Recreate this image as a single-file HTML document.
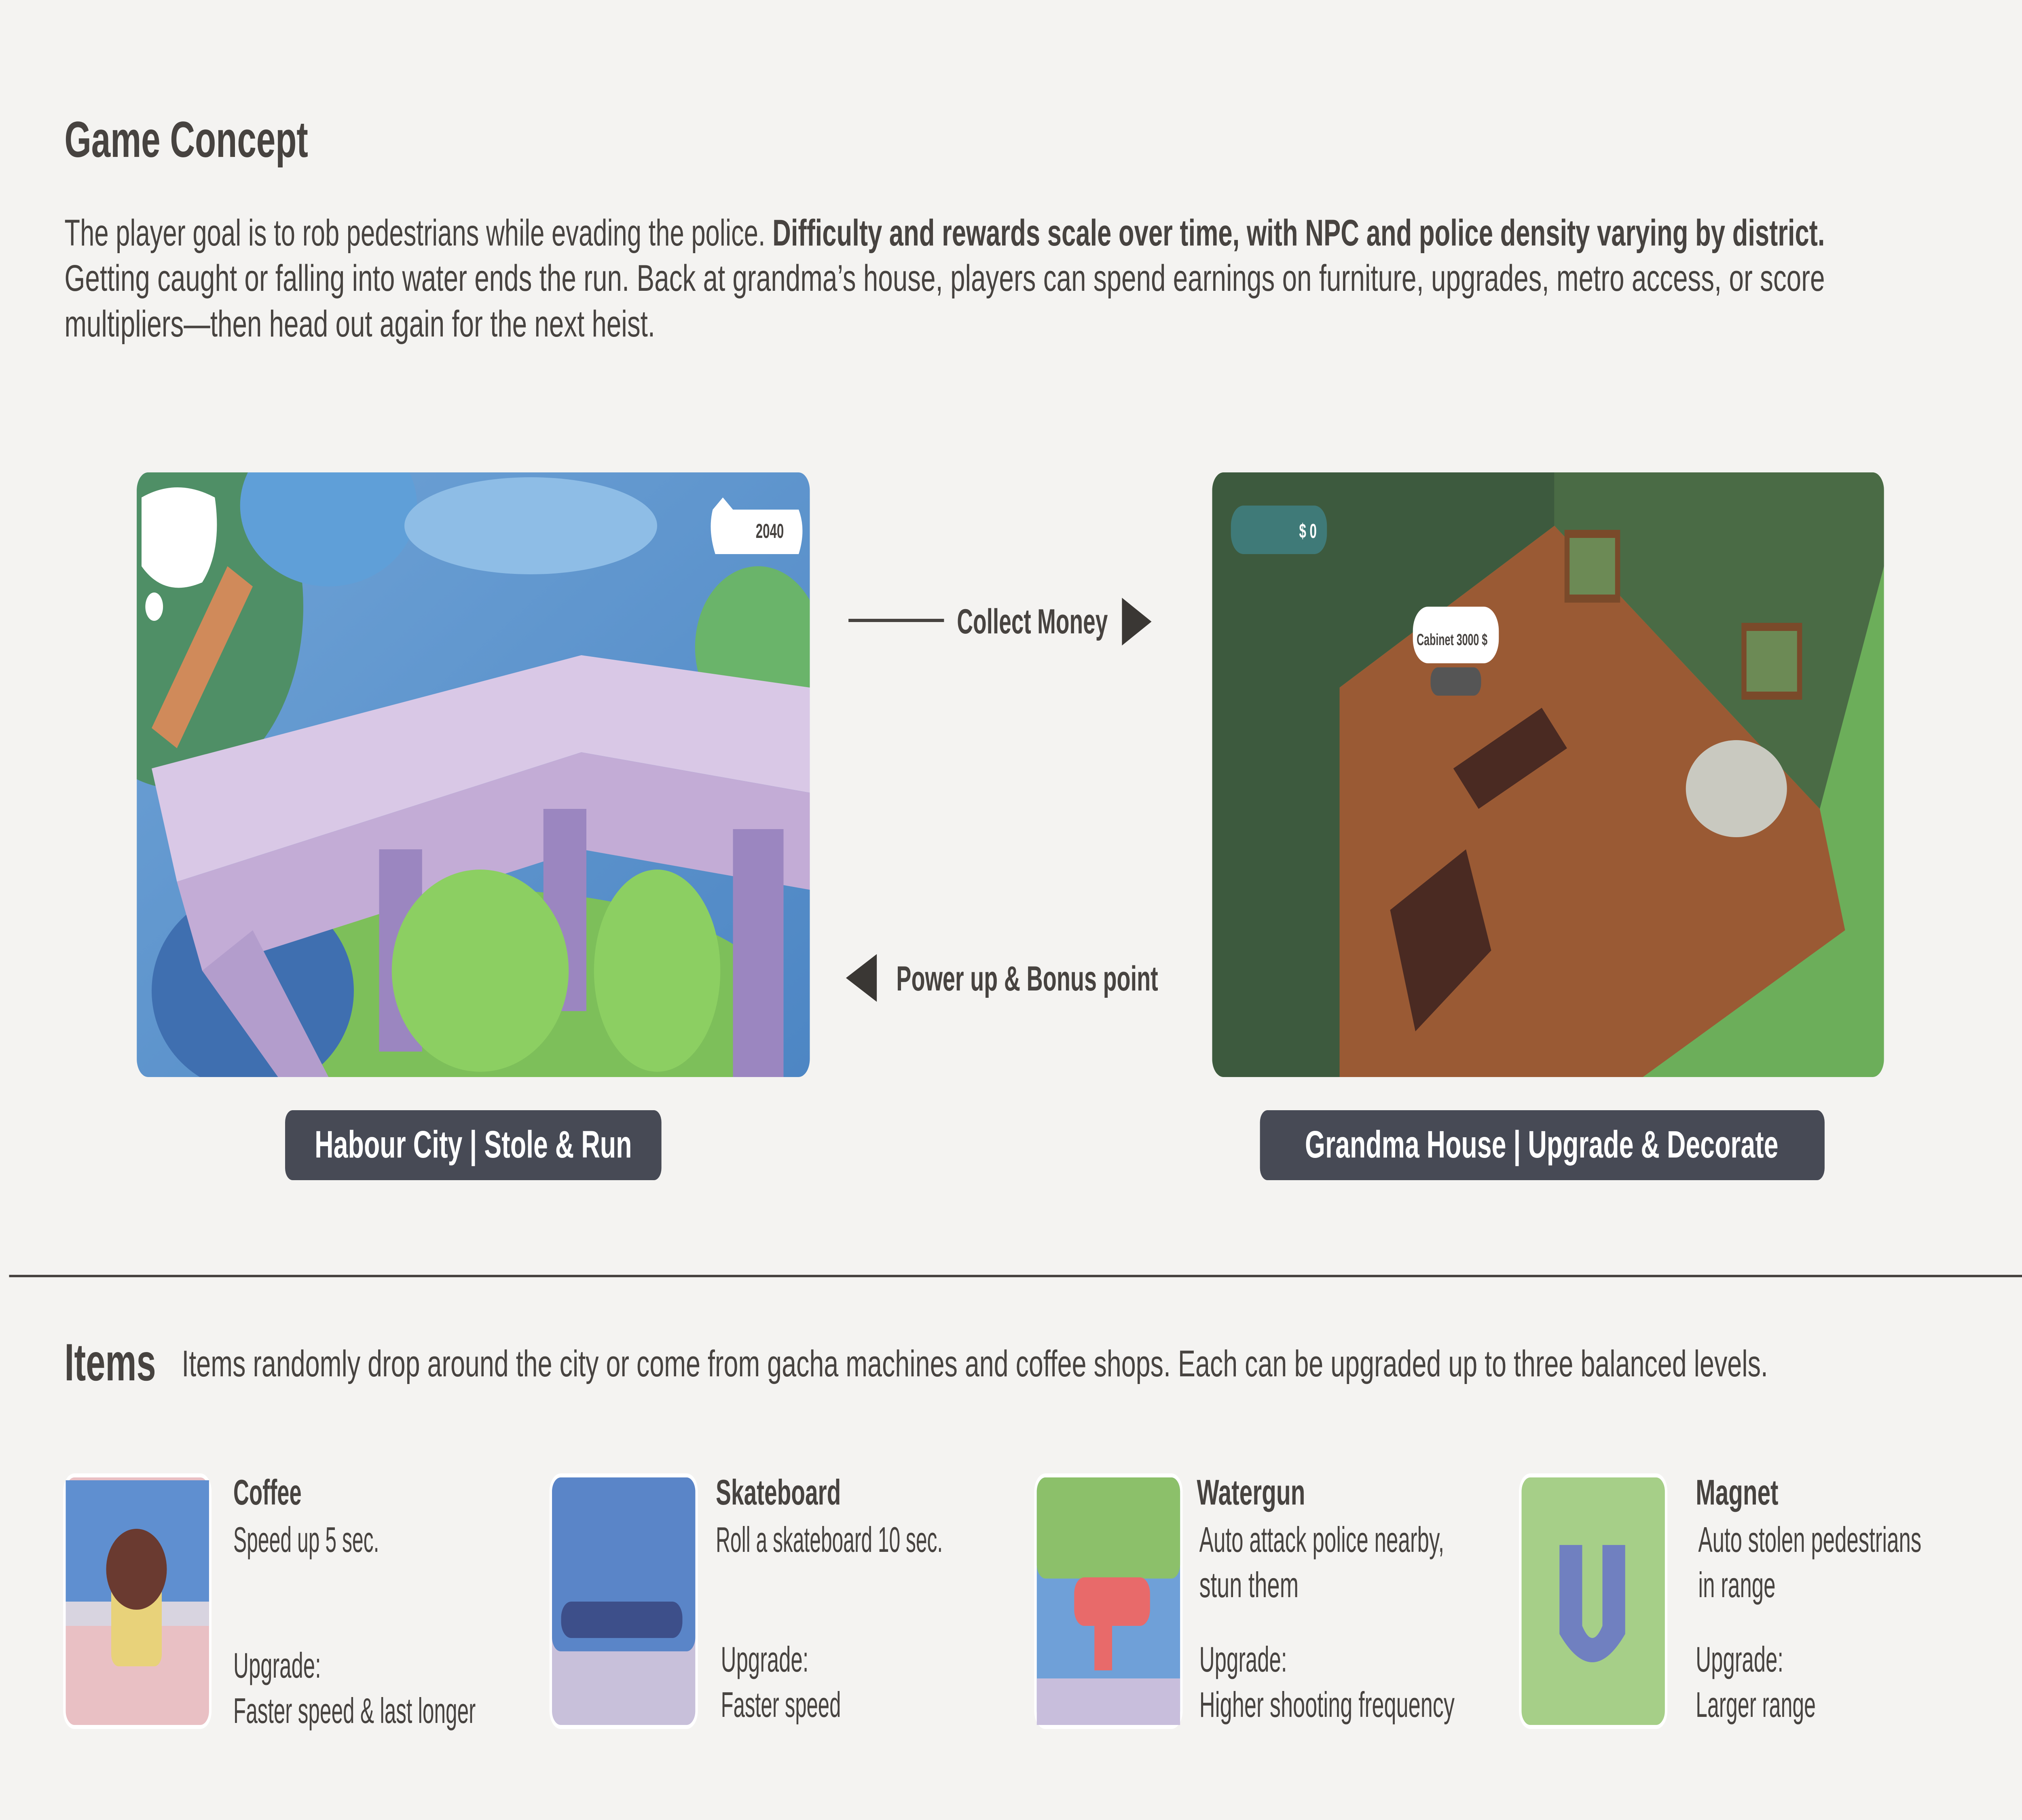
<!DOCTYPE html>
<html><head><meta charset="utf-8"><style>
html,body{margin:0;padding:0;background:#f4f3f1;overflow:hidden;width:100%;height:100%;}
svg{display:block;width:100vw;height:100vh}
text{font-family:"Liberation Sans",sans-serif;fill:#474340}
</style></head><body>
<svg viewBox="0 0 8000 4500" preserveAspectRatio="none" xmlns="http://www.w3.org/2000/svg">
<defs>
<clipPath id="cl"><rect x="541" y="1168" width="2663" height="1495" rx="45"/></clipPath>
<clipPath id="cr"><rect x="4796" y="1168" width="2658" height="1495" rx="45"/></clipPath>
<linearGradient id="wat" x1="0" y1="0" x2="1" y2="1"><stop offset="0" stop-color="#6fa3d6"/><stop offset="1" stop-color="#4d86c4"/></linearGradient>
</defs>
<rect width="8000" height="4500" fill="#f4f3f1"/>

<text x="255" y="388" font-size="125" font-weight="bold" textLength="964" lengthAdjust="spacingAndGlyphs">Game Concept</text>
<text x="255" y="607" font-size="92" textLength="6965" lengthAdjust="spacingAndGlyphs">The player goal is to rob pedestrians while evading the police. <tspan font-weight="bold">Difficulty and rewards scale over time, with NPC and police density varying by district.</tspan></text>
<text x="255" y="719" font-size="92" textLength="6965" lengthAdjust="spacingAndGlyphs">Getting caught or falling into water ends the run. Back at grandma’s house, players can spend earnings on furniture, upgrades, metro access, or score</text>
<text x="255" y="832" font-size="92" textLength="2337" lengthAdjust="spacingAndGlyphs">multipliers—then head out again for the next heist.</text>

<g clip-path="url(#cl)">
<rect x="541" y="1168" width="2663" height="1495" fill="url(#wat)"/>
<ellipse cx="700" cy="1500" rx="500" ry="450" fill="#4f8f66"/>
<ellipse cx="1300" cy="1250" rx="350" ry="200" fill="#5f9fd8"/>
<ellipse cx="2100" cy="1300" rx="500" ry="120" fill="#8ebde6"/>
<ellipse cx="3000" cy="1600" rx="250" ry="200" fill="#6ab46a"/>
<ellipse cx="1900" cy="2500" rx="1200" ry="300" fill="#7dbf5a"/>
<ellipse cx="1000" cy="2450" rx="400" ry="250" fill="#3f6fb0"/>
<polygon points="600,1900 2300,1620 3204,1700 3204,1960 2300,1860 700,2180" fill="#d9c8e6"/>
<polygon points="700,2180 2300,1860 3204,1960 3204,2200 2300,2100 800,2400" fill="#c3acd6"/>
<polygon points="800,2400 1100,2663 1300,2663 1000,2300" fill="#b39dcc"/>
<rect x="1500" y="2100" width="170" height="500" fill="#9b86c0"/>
<rect x="2150" y="2000" width="170" height="500" fill="#9b86c0"/>
<rect x="2900" y="2050" width="200" height="613" fill="#9b86c0"/>
<ellipse cx="1900" cy="2400" rx="350" ry="250" fill="#8ccf62"/>
<ellipse cx="2600" cy="2400" rx="250" ry="250" fill="#8ccf62"/>
<polygon points="600,1800 900,1400 1000,1450 700,1850" fill="#d08a5a"/>
<path d="M560 1230 Q700 1180 850 1230 Q880 1360 800 1440 Q650 1480 560 1400 Z" fill="#fff"/>
<circle cx="610" cy="1500" r="35" fill="#fff"/>
<path d="M2820 1260 L2860 1230 L2900 1260 L3160 1260 Q3190 1310 3160 1370 L2830 1370 Q2800 1310 2820 1260Z" fill="#fff"/>
<text x="2990" y="1330" font-size="50" font-weight="bold">2040</text>
</g>

<g clip-path="url(#cr)">
<rect x="4796" y="1168" width="2658" height="1495" fill="#6cae5a"/>
<polygon points="4796,1168 6150,1168 6150,1300 5300,1700 5300,2663 4796,2663" fill="#3d5a3e"/>
<polygon points="6150,1168 7454,1168 7454,1400 7200,2000 6150,1300" fill="#4a6b45"/>
<polygon points="5300,1700 6150,1300 7200,2000 7300,2300 6500,2663 5300,2663" fill="#9a5a34"/>
<polygon points="5500,2250 5800,2100 5900,2350 5600,2550" fill="#4a2a22"/>
<polygon points="5750,1900 6100,1750 6200,1850 5850,2000" fill="#4a2a22"/>
<ellipse cx="6870" cy="1950" rx="200" ry="120" fill="#c9c9c0"/>
<rect x="6200" y="1320" width="200" height="160" fill="#6c8a55" stroke="#7a4a2a" stroke-width="20"/>
<rect x="6900" y="1550" width="220" height="170" fill="#6c8a55" stroke="#7a4a2a" stroke-width="20"/>
<rect x="4870" y="1250" width="380" height="120" rx="50" fill="#3f7a78"/>
<text x="5140" y="1330" font-size="50" font-weight="bold" style="fill:#fff">$ 0</text>
<rect x="5590" y="1500" width="340" height="140" rx="60" fill="#fff"/>
<text x="5605" y="1595" font-size="40" font-weight="bold">Cabinet 3000 $</text>
<rect x="5660" y="1650" width="200" height="70" rx="30" fill="#555"/>
</g>

<rect x="1128" y="2745" width="1489" height="173" rx="30" fill="#474a55"/>
<text x="1245" y="2862" font-size="95" font-weight="bold" style="fill:#fff" textLength="1255" lengthAdjust="spacingAndGlyphs">Habour City  |  Stole &amp; Run</text>
<rect x="4985" y="2745" width="2234" height="173" rx="30" fill="#474a55"/>
<text x="5163" y="2862" font-size="95" font-weight="bold" style="fill:#fff" textLength="1873" lengthAdjust="spacingAndGlyphs">Grandma House  |  Upgrade &amp; Decorate</text>

<line x1="3357" y1="1534" x2="3735" y2="1534" stroke="#474340" stroke-width="8"/>
<text x="3786" y="1566" font-size="86" font-weight="bold" textLength="597" lengthAdjust="spacingAndGlyphs">Collect Money</text>
<polygon points="4439,1478 4556,1537 4439,1596" fill="#3a3734"/>
<polygon points="3469,2359 3347,2418 3469,2477" fill="#3a3734"/>
<text x="3546" y="2449" font-size="86" font-weight="bold" textLength="1036" lengthAdjust="spacingAndGlyphs">Power up &amp;  Bonus point</text>

<line x1="36" y1="3155" x2="8000" y2="3155" stroke="#474340" stroke-width="6"/>

<text x="255" y="3413" font-size="130" font-weight="bold" textLength="362" lengthAdjust="spacingAndGlyphs">Items</text>
<text x="719" y="3403" font-size="92" textLength="6276" lengthAdjust="spacingAndGlyphs">Items randomly drop around the city or come from gacha machines and coffee shops. Each can be upgraded up to three balanced levels.</text>

<g>
<rect x="255" y="3648" width="577" height="622" rx="40" fill="#e9c0c4" stroke="#fff" stroke-width="10"/>
<rect x="260" y="3660" width="567" height="300" fill="#5f8fd0"/>
<rect x="260" y="3960" width="567" height="60" fill="#d8d4e0"/>
<rect x="440" y="3900" width="200" height="220" rx="30" fill="#e8d27a"/>
<ellipse cx="540" cy="3880" rx="120" ry="100" fill="#6a3a30"/>
</g>
<g>
<rect x="2179" y="3648" width="577" height="622" rx="40" fill="#c8c0da" stroke="#fff" stroke-width="10"/>
<rect x="2184" y="3653" width="567" height="430" rx="35" fill="#5a85c8"/>
<rect x="2220" y="3960" width="480" height="90" rx="40" fill="#3d4f8a"/>
</g>
<g>
<rect x="4097" y="3648" width="577" height="622" rx="40" fill="#6fa0d8" stroke="#fff" stroke-width="10"/>
<rect x="4102" y="3653" width="567" height="250" rx="35" fill="#8cc06a"/>
<rect x="4102" y="4150" width="567" height="115" fill="#c8bedc"/>
<rect x="4250" y="3900" width="300" height="120" rx="40" fill="#e86a6a"/>
<rect x="4330" y="4000" width="70" height="130" fill="#e86a6a"/>
</g>
<g>
<rect x="6015" y="3648" width="577" height="622" rx="40" fill="#a6cf88" stroke="#fff" stroke-width="10"/>
<path d="M6170 3820 L6260 3820 L6260 4020 Q6300 4080 6340 4020 L6340 3820 L6430 3820 L6430 4040 Q6300 4180 6170 4040 Z" fill="#7080c0"/>
</g>

<g font-size="88">
<text x="923" y="3720" font-weight="bold" textLength="270" lengthAdjust="spacingAndGlyphs">Coffee</text>
<text x="923" y="3837" textLength="577" lengthAdjust="spacingAndGlyphs">Speed up 5 sec.</text>
<text x="923" y="4148" textLength="347" lengthAdjust="spacingAndGlyphs">Upgrade:</text>
<text x="923" y="4260" textLength="959" lengthAdjust="spacingAndGlyphs">Faster speed &amp; last longer</text>

<text x="2832" y="3720" font-weight="bold" textLength="495" lengthAdjust="spacingAndGlyphs">Skateboard</text>
<text x="2832" y="3837" textLength="898" lengthAdjust="spacingAndGlyphs">Roll a skateboard 10 sec.</text>
<text x="2852" y="4133" textLength="347" lengthAdjust="spacingAndGlyphs">Upgrade:</text>
<text x="2852" y="4245" textLength="475" lengthAdjust="spacingAndGlyphs">Faster speed</text>

<text x="4735" y="3720" font-weight="bold" textLength="429" lengthAdjust="spacingAndGlyphs">Watergun</text>
<text x="4745" y="3837" textLength="969" lengthAdjust="spacingAndGlyphs">Auto attack police nearby,</text>
<text x="4745" y="3949" textLength="393" lengthAdjust="spacingAndGlyphs">stun them</text>
<text x="4745" y="4133" textLength="347" lengthAdjust="spacingAndGlyphs">Upgrade:</text>
<text x="4745" y="4245" textLength="1010" lengthAdjust="spacingAndGlyphs">Higher shooting frequency</text>

<text x="6709" y="3720" font-weight="bold" textLength="327" lengthAdjust="spacingAndGlyphs">Magnet</text>
<text x="6719" y="3837" textLength="883" lengthAdjust="spacingAndGlyphs">Auto stolen pedestrians</text>
<text x="6719" y="3949" textLength="306" lengthAdjust="spacingAndGlyphs">in range</text>
<text x="6709" y="4133" textLength="347" lengthAdjust="spacingAndGlyphs">Upgrade:</text>
<text x="6709" y="4245" textLength="475" lengthAdjust="spacingAndGlyphs">Larger range</text>
</g>
</svg>
</body></html>
